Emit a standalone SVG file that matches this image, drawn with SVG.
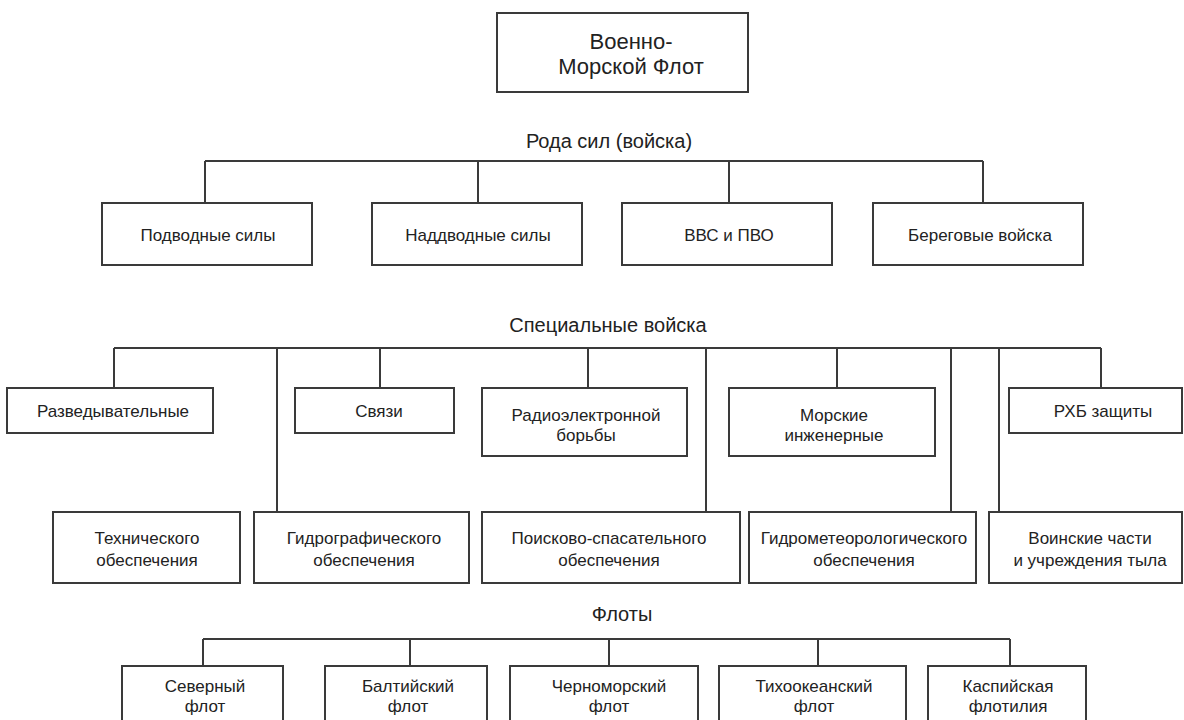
<svg xmlns="http://www.w3.org/2000/svg" width="1184" height="720" viewBox="0 0 1184 720">
<style>
.box{fill:#fff;stroke:#3a3a3a;stroke-width:2}
.ln{fill:none;stroke:#3a3a3a;stroke-width:2}
text{font-family:"Liberation Sans",Arial,sans-serif;fill:#222;text-anchor:middle}
.t{font-size:17px}
.h{font-size:20px}
.top{font-size:22px}
</style>
<rect width="1184" height="720" fill="#fff"/>
<g id="connectors">
<path class="ln" d="M205 161H983M205 161V203M478 161V203M729 161V203M983 161V203"/>
<path class="ln" d="M114 348H1101M114 348V388M277 348V512M380 348V388M588 348V388M706 348V512M837 348V388M951 348V512M999 348V512M1101 348V388"/>
<path class="ln" d="M203 639H1010M203 639V666M410 639V666M609 639V666M818 639V666M1010 639V666"/>
</g>
<g id="vmf"><rect class="box" x="497" y="13" width="251" height="79"/><text class="top" x="631" y="49">Военно-</text><text class="top" x="631" y="74">Морской Флот</text></g>
<g id="h-roda"><text class="h" x="609" y="148">Рода сил (войска)</text></g>
<g id="podvodnye"><rect class="box" x="102" y="203" width="210" height="62"/><text class="t" x="208" y="241">Подводные силы</text></g>
<g id="nadvodnye"><rect class="box" x="372" y="203" width="210" height="62"/><text class="t" x="478" y="241">Наддводные силы</text></g>
<g id="vvs"><rect class="box" x="622" y="203" width="210" height="62"/><text class="t" x="729" y="241">ВВС и ПВО</text></g>
<g id="beregovye"><rect class="box" x="873" y="203" width="210" height="62"/><text class="t" x="980" y="241">Береговые войска</text></g>
<g id="h-spec"><text class="h" x="608" y="332">Специальные войска</text></g>
<g id="razved"><rect class="box" x="7" y="388" width="206" height="45"/><text class="t" x="113" y="417">Разведывательные</text></g>
<g id="svyazi"><rect class="box" x="295" y="388" width="159" height="45"/><text class="t" x="379" y="417">Связи</text></g>
<g id="reb"><rect class="box" x="482" y="388" width="205" height="68"/><text class="t" x="586" y="421">Радиоэлектронной</text><text class="t" x="586" y="441">борьбы</text></g>
<g id="ingener"><rect class="box" x="729" y="388" width="206" height="68"/><text class="t" x="834" y="421">Морские</text><text class="t" x="834" y="441">инженерные</text></g>
<g id="rhb"><rect class="box" x="1009" y="388" width="173" height="45"/><text class="t" x="1103" y="417">РХБ защиты</text></g>
<g id="tehn"><rect class="box" x="53" y="512" width="187" height="71"/><text class="t" x="147" y="544">Технического</text><text class="t" x="147" y="566">обеспечения</text></g>
<g id="gidrograf"><rect class="box" x="254" y="512" width="215" height="71"/><text class="t" x="364" y="544">Гидрографического</text><text class="t" x="364" y="566">обеспечения</text></g>
<g id="poisk"><rect class="box" x="482" y="512" width="258" height="71"/><text class="t" x="609" y="544">Поисково-спасательного</text><text class="t" x="609" y="566">обеспечения</text></g>
<g id="gidromet"><rect class="box" x="749" y="512" width="227" height="71"/><text class="t" x="864" y="544">Гидрометеорологического</text><text class="t" x="864" y="566">обеспечения</text></g>
<g id="tyl"><rect class="box" x="989" y="512" width="193" height="71"/><text class="t" x="1090" y="544">Воинские части</text><text class="t" x="1090" y="566">и учреждения тыла</text></g>
<g id="h-floty"><text class="h" x="622" y="621">Флоты</text></g>
<g id="severny"><rect class="box" x="122" y="666" width="161" height="70"/><text class="t" x="205" y="692">Северный</text><text class="t" x="205" y="712">флот</text></g>
<g id="baltiysky"><rect class="box" x="325" y="666" width="162" height="70"/><text class="t" x="408" y="692">Балтийский</text><text class="t" x="408" y="712">флот</text></g>
<g id="chernomorsky"><rect class="box" x="510" y="666" width="188" height="70"/><text class="t" x="609" y="692">Черноморский</text><text class="t" x="609" y="712">флот</text></g>
<g id="tihookeansky"><rect class="box" x="719" y="666" width="187" height="70"/><text class="t" x="814" y="692">Тихоокеанский</text><text class="t" x="814" y="712">флот</text></g>
<g id="kaspiyskaya"><rect class="box" x="928" y="666" width="158" height="70"/><text class="t" x="1008" y="692">Каспийская</text><text class="t" x="1008" y="712">флотилия</text></g>
</svg>
